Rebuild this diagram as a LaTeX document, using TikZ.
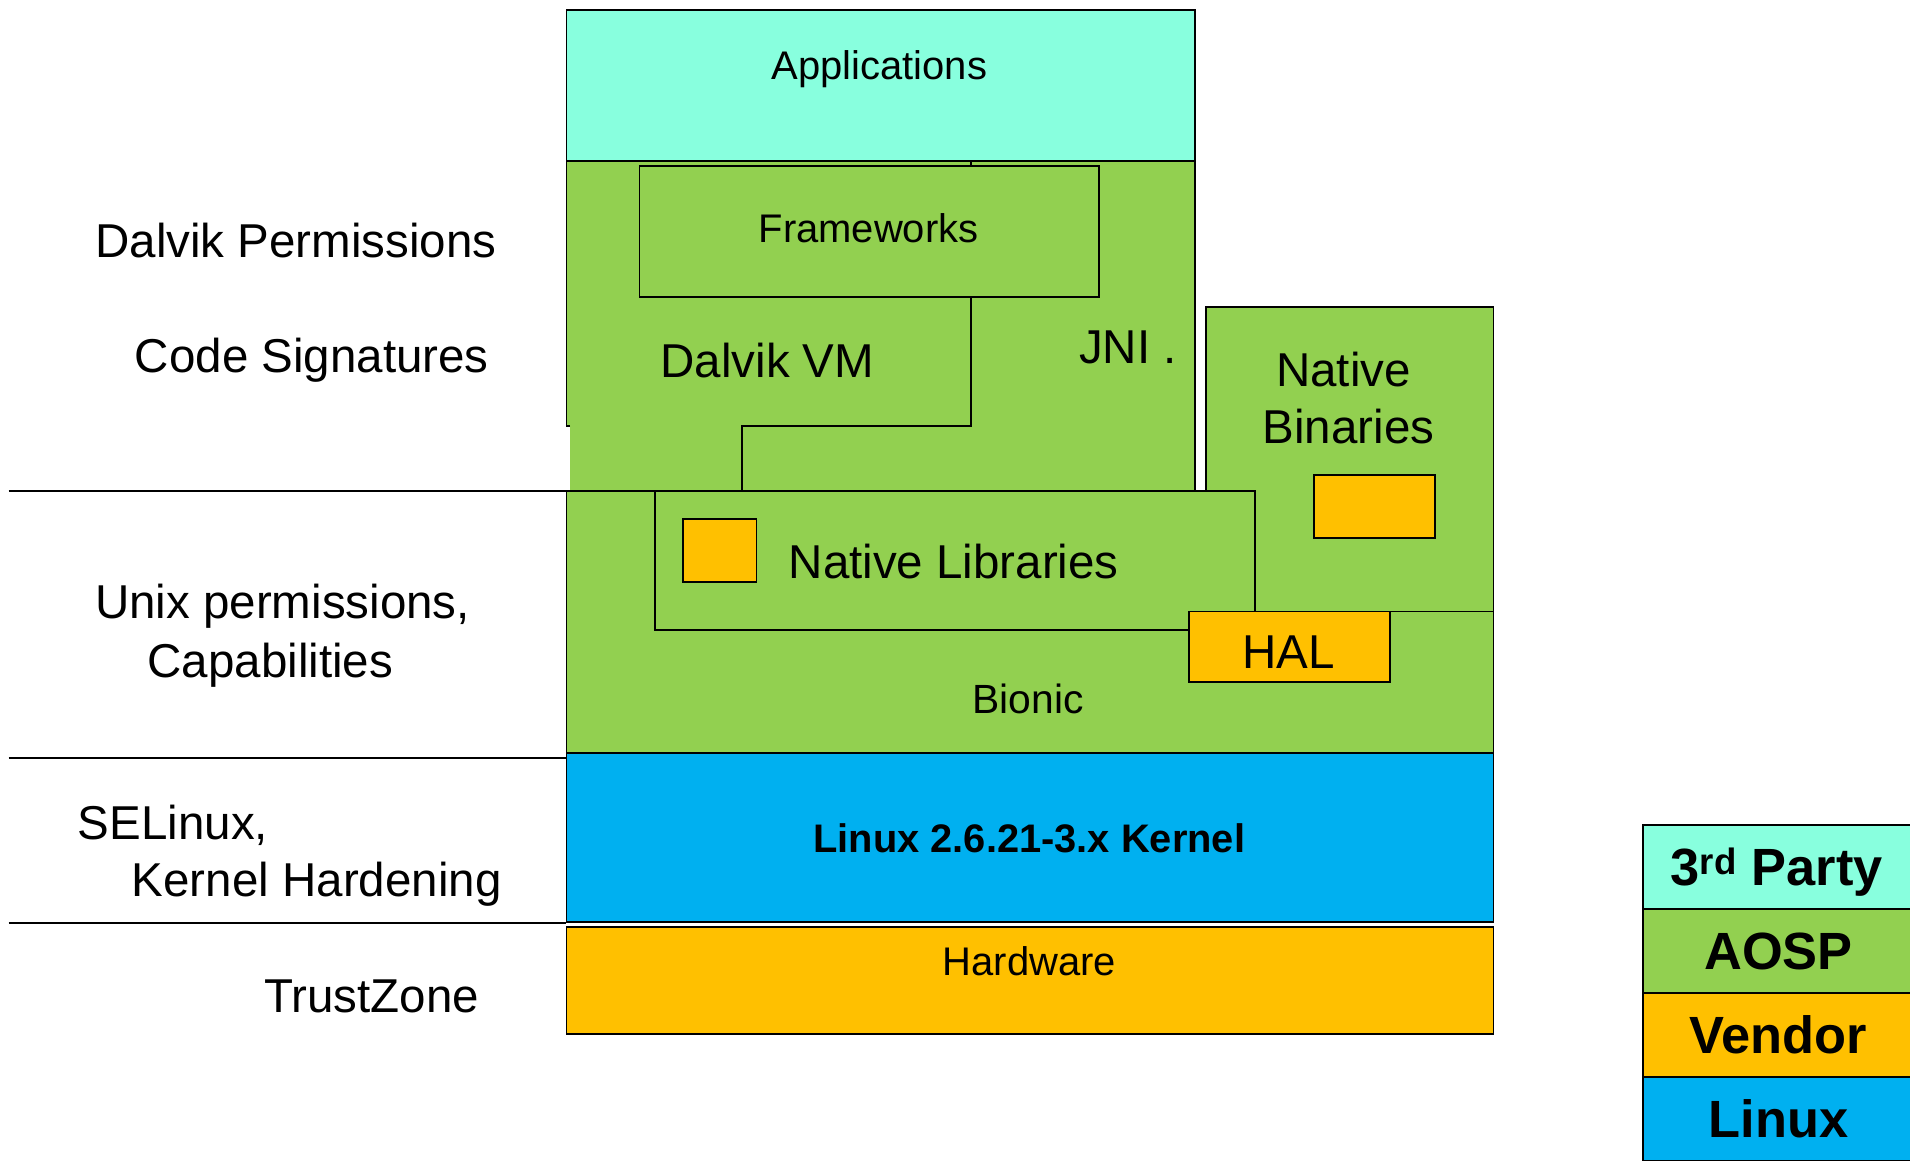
\documentclass[tikz,border=0pt]{standalone}
\usepackage{fontspec}
\setmainfont{Liberation Sans}
\usepackage{xcolor}
\usetikzlibrary{positioning}

\definecolor{party}{HTML}{88FFDE}
\definecolor{aosp}{HTML}{92D050}
\definecolor{vendor}{HTML}{FFC000}
\definecolor{linux}{HTML}{00B0F0}

\begin{document}
\begin{tikzpicture}[x=1pt, y=-1pt, line width=1.5pt,
    layer/.style={draw, rectangle, inner sep=0pt, outer sep=0pt, anchor=north west},
    txt/.style={inner sep=0pt, anchor=base, font=\fontsize{32.8}{39}\selectfont},
    bigtxt/.style={inner sep=0pt, anchor=base, font=\fontsize{39}{47}\selectfont},
    key/.style={draw, rectangle, inner sep=0pt, outer sep=0pt, minimum width=222pt, minimum height=69pt,
        text height=31pt, text depth=0pt, font=\bfseries\fontsize{43}{50}\selectfont},
    node distance=0pt]
   \useasboundingbox (0,0) rectangle (1568,953);

   % Dalvik VM / JNI region
   \fill[aosp] (465,132) -- (981,132) -- (981,403) -- (468,403) -- (468,350) -- (465,350) -- cycle;
   \draw (468,350) -- (465,350) -- (465,132) -- (981,132) -- (981,403);
   \node[layer, fill=party, minimum width=516pt, minimum height=124pt] (apps) at (465,8) {};
   \node[layer, fill=aosp, minimum width=377pt, minimum height=108pt] (fw) at (525,136) {};
   \draw (797,132) -- (797,136);
   \draw (797,244) -- (797,350) -- (609,350) -- (609,403);

   % native layer
   \node[layer, fill=aosp, minimum width=761pt, minimum height=215pt] (bionic) at (465,403) {};
   \node[layer, fill=aosp, minimum width=236pt, minimum height=250pt] (nb) at (990,252) {};
   \node[layer, fill=vendor, minimum width=99pt, minimum height=52pt] (nbsq) at (1079,390) {};
   \node[layer, fill=aosp, minimum width=492pt, minimum height=114pt] (nl) at (538,403) {};
   \node[layer, fill=vendor, minimum width=60pt, minimum height=52pt] (nlsq) at (561,426) {};
   \node[layer, fill=vendor, minimum width=165pt, minimum height=58pt] (hal) at (976,502) {};

   % kernel and hardware
   \node[layer, fill=linux, minimum width=761pt, minimum height=139pt] (kernel) at (465,618) {};
   \node[layer, fill=vendor, minimum width=761pt, minimum height=88pt] (hw) at (465,761) {};

   % labels in the stack
   \node[txt] (appsname) at (722,65) {Applications};
   \node[txt] (fwname) at (713,199) {Frameworks};
   \node[bigtxt] (vmname) at (630,310) {Dalvik VM};
   \node[bigtxt] (jniname) at (926,298) {JNI .};
   \node[bigtxt] (nbname) at (1103,317) {Native};
   \node[bigtxt] (nbname2) at (1107,364) {Binaries};
   \node[bigtxt] (nlname) at (783,475) {Native Libraries};
   \node[bigtxt] (halname) at (1058,549) {HAL};
   \node[txt, font=\fontsize{33.5}{40}\selectfont] (bioname) at (844,586) {Bionic};
   \node[txt, font=\bfseries\fontsize{32.7}{39}\selectfont] (kername) at (845,700) {Linux 2.6.21-3.x Kernel};
   \node[txt] (hwname) at (845,801) {Hardware};

   % separators and mechanisms
   \coordinate (s1) at (7,403);
   \coordinate (s2) at (7,622);
   \coordinate (s3) at (7,758);
   \draw (s1) -- (s1 -| bionic.west);
   \draw (s2) -- (s2 -| kernel.west);
   \draw (s3) -- (s3 -| hw.west);
   \node[bigtxt] (perm) at (243,211) {Dalvik Permissions};
   \node[bigtxt] (sign) at (256,306) {Code Signatures};
   \node[bigtxt] (unix) at (232,508) {Unix permissions,};
   \node[bigtxt] (caps) at (222,556) {Capabilities};
   \node[bigtxt] (selinux) at (142,689) {SELinux,};
   \node[bigtxt] (harden) at (260,736) {Kernel Hardening};
   \node[bigtxt] (tz) at (305,831) {TrustZone};

   % legend
   \node[key, fill=party, anchor=north west] (k1) at (1349,677) {\hspace*{-3pt}3\textsuperscript{rd} Party};
   \node[key, fill=aosp] (k2) [below=of k1] {AOSP};
   \node[key, fill=vendor] (k3) [below=of k2] {Vendor};
   \node[key, fill=linux] (k4) [below=of k3] {Linux};
\end{tikzpicture}
\end{document}
